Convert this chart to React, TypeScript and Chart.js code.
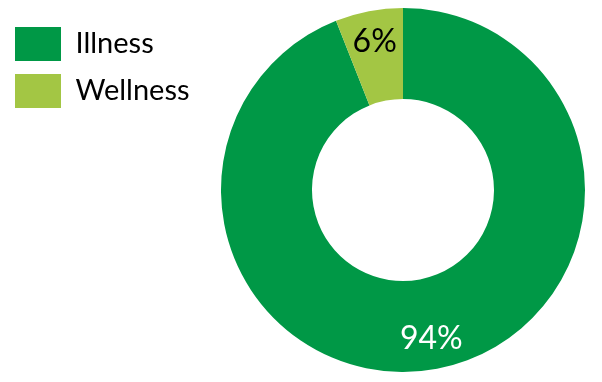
import { useEffect, useRef } from 'react';
import { Chart, registerables } from 'chart.js';

Chart.register(...registerables);

const categories = ['Illness', 'Wellness'];
const values = [94, 6];
const valueLabels = ['94%', '6%'];
const sliceColors = ['#009846', '#A3C644'];
const valueLabelColors = ['#FFFFFF', '#000000'];

const FONT = 'Lato, Carlito, "Open Sans", sans-serif';

export default function App() {
  const ref = useRef<HTMLCanvasElement>(null);

  useEffect(() => {
    if (!ref.current) return;

    const legendFix = {
      id: 'legendFix',
      beforeLayout(chart: any) {
        const lg = chart.legend;
        if (lg && !lg.__patched) {
          const orig = lg.fit.bind(lg);
          lg.fit = function () {
            orig();
            this.width = 204;
          };
          lg.__patched = true;
        }
      },
      afterLayout(chart: any) {
        const lg = chart.legend;
        if (lg) {
          lg.left = -6;
          lg.top = 6;
        }
      },
    };

    const pctLabels = {
      id: 'pctLabels',
      afterDatasetsDraw(chart: any) {
        const meta = chart.getDatasetMeta(0);
        const ctx = chart.ctx;
        ctx.save();
        ctx.font = `32px ${FONT}`;
        ctx.textAlign = 'center';
        ctx.textBaseline = 'middle';
        meta.data.forEach((arc: any, i: number) => {
          const p = arc.getProps(['x', 'y', 'startAngle', 'endAngle', 'outerRadius'], true);
          const mid = (p.startAngle + p.endAngle) / 2;
          const r = p.outerRadius * 0.83;
          ctx.fillStyle = valueLabelColors[i];
          ctx.fillText(valueLabels[i], p.x + Math.cos(mid) * r, p.y + Math.sin(mid) * r);
        });
        ctx.restore();
      },
    };

    const chart = new Chart(ref.current, {
      type: 'doughnut',
      data: {
        labels: categories,
        datasets: [
          {
            data: values,
            backgroundColor: sliceColors,
            borderWidth: 0,
            hoverBorderWidth: 0,
            hoverOffset: 0,
          },
        ],
      },
      options: {
        animation: false,
        responsive: true,
        maintainAspectRatio: false,
        events: [],
        cutout: '50%',
        layout: { padding: 0 },
        plugins: {
          legend: {
            display: true,
            position: 'left',
            align: 'start',
            labels: {
              boxWidth: 46,
              boxHeight: 34,
              padding: 13,
              color: '#000000',
              font: { family: FONT, size: 29 },
            },
          },
          tooltip: { enabled: false },
        },
      },
      plugins: [legendFix, pctLabels],
    });

    return () => chart.destroy();
  }, []);

  return (
    <div style={{ position: 'relative', width: 586, height: 364 }}>
      <canvas ref={ref} />
    </div>
  );
}
